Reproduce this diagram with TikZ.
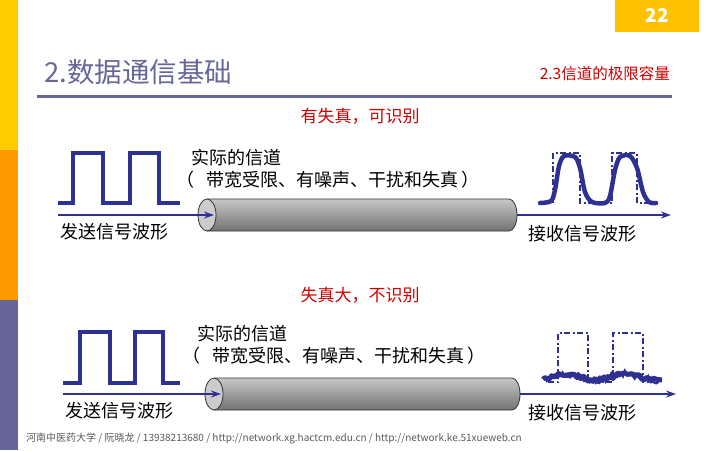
\documentclass[tikz,border=0pt]{standalone}
\usepackage{fontspec}
\setmainfont{Noto Sans CJK SC}
\usetikzlibrary{arrows.meta}
\definecolor{huang}{HTML}{FFCC00}
\definecolor{cheng}{HTML}{FF9900}
\definecolor{zi}{HTML}{666699}
\definecolor{lan}{HTML}{2E3192}
\definecolor{hong}{HTML}{CC0000}
\tikzset{
  boxing/.style={line width=3.2pt, lan, line join=miter},
  xuxian/.style={line width=2.4pt, lan, dash pattern=on 6pt off 2.5pt on 2pt off 2.5pt},
  jiantou/.style={line width=2.4pt, lan, -{Stealth[length=10pt,width=7pt]}},
  biaoqian/.style={inner sep=0pt, anchor=west, font=\fontsize{18}{19}\selectfont},
  hongzi/.style={inner sep=0pt, hong, font=\fontsize{17}{18}\selectfont},
}
% cylinder: #1 = face centre x, #2 = right end x, #3 = centre y
\newcommand\xindao[3]{%
  \shade[top color=black!22, middle color=white, bottom color=black!55]
    (#1,#3-16) -- (#2-8,#3-16) arc(-90:90:8 and 16) -- (#1,#3+16) -- cycle;
  \draw[black!80, line width=0.8pt]
    (#1,#3-16) -- (#2-8,#3-16) arc(-90:90:8 and 16) -- (#1,#3+16);
  \draw[black!80, line width=0.8pt, fill=black!20] (#1,#3) ellipse (9 and 16);
}
\begin{document}
\begin{tikzpicture}[x=1pt, y=-1pt, line cap=butt]
  \useasboundingbox (0,0) rectangle (720,450);
  % side bar and page number
  \fill[huang] (0,0) rectangle (18,150);
  \fill[cheng] (0,150) rectangle (18,300);
  \fill[zi] (0,300) rectangle (18,450);
  \fill[huang!85!orange] (615,0) rectangle (699,32);
  \node[white, font=\fontsize{19}{20}\selectfont\bfseries] (yema) at (657,15) {22};
  % header
  \node[zi, inner sep=0pt, anchor=base west, font=\fontsize{27.5}{28}\selectfont] (biaoti) at (44,82) {2.数据通信基础};
  \node[hong, inner sep=0pt, anchor=base east, font=\fontsize{15.5}{16}\selectfont] (xiaobiaoti) at (670,79) {2.3信道的极限容量};
  \draw[zi, line width=3pt] (37,96) -- (672,96);

  % upper case
  \node[hongzi] (youshi) at (360,116) {有失真，可识别};
  \draw[boxing] (58,203) -| (73,153) -| (103,203) -| (130,153) -| (159,203) -- (180,203);
  \node[biaoqian] (shiji1) at (191,158) {实际的信道};
  \node[biaoqian] (kuan1) at (176,180) {（\hspace{12pt}带宽受限、有噪声、干扰和失真\hspace{3pt}）};
  \xindao{207}{517}{215}
  \coordinate (fa1) at (58,215);
  \coordinate (ru1) at (214,215);
  \coordinate (chu1) at (517,215);
  \coordinate (shou1) at (671,215);
  \draw[jiantou] (fa1) -- (ru1);
  \draw[jiantou] (chu1) -- (shou1);
  \node[biaoqian] (fasong1) at (60,232) {发送信号波形};
  \node[biaoqian] (jieshou1) at (528,234) {接收信号波形};
  \draw[xuxian] (545,203) -| (553,153) -| (580,203) -| (612,153) -| (637,203) -- (650,203);
  \draw[lan, line width=4.5pt, line join=round, line cap=round] plot[smooth, tension=0.5] coordinates
    {(540,203) (551,201) (555,190) (559,166) (564,156) (575,157) (580,168) (585,192) (592,202) (605,203) (610,196) (615,170) (620,157) (630,156) (637,168) (643,192) (649,202) (656,203)};

  % lower case
  \node[hongzi] (dashi) at (360,295) {失真大，不识别};
  \draw[boxing] (63,383) -| (80,332) -| (110,383) -| (135,332) -| (163,383) -- (180,383);
  \node[biaoqian] (shiji2) at (197,334) {实际的信道};
  \node[biaoqian] (kuan2) at (182,356) {（\hspace{12pt}带宽受限、有噪声、干扰和失真\hspace{3pt}）};
  \xindao{214}{520}{394}
  \coordinate (fa2) at (63,394);
  \coordinate (ru2) at (221,394);
  \coordinate (chu2) at (520,394);
  \coordinate (shou2) at (676,394);
  \draw[jiantou] (fa2) -- (ru2);
  \draw[jiantou] (chu2) -- (shou2);
  \node[biaoqian] (fasong2) at (65,411) {发送信号波形};
  \node[biaoqian] (jieshou2) at (528,413) {接收信号波形};
  \draw[xuxian] (548,382) -| (558,333) -| (588,382) -| (613,333) -| (643,382) -- (655,382);
  \pgfmathsetseed{7}
  \draw[lan, line width=5pt, line join=round] plot[domain=543:662, samples=70]
    (\x, {377-3*sin((\x-550)*6)+1.8*rand});
  \draw[lan, line width=2pt] plot[domain=545:660, samples=60]
    (\x, {377-3*sin((\x-550)*6)+3.5*rand});

  % footer
  \node[black!65, inner sep=0pt, anchor=west, font=\fontsize{10}{11}\selectfont] (jiaozhu) at (26,438)
    {河南中医药大学 / 阮晓龙 / 13938213680 / http://network.xg.hactcm.edu.cn / http://network.ke.51xueweb.cn};
\end{tikzpicture}
\end{document}
